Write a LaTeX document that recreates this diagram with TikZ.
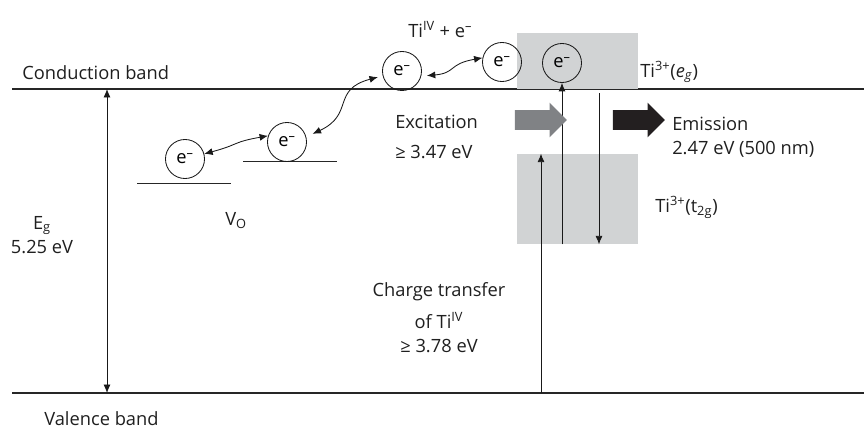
\documentclass[tikz,border=0pt]{standalone}
\usepackage{fontspec}
\setmainfont{Open Sans}
\usetikzlibrary{arrows.meta,positioning,shapes.arrows}

\definecolor{boxgray}{HTML}{D1D3D4}
\definecolor{excgray}{HTML}{808285}
\definecolor{emblack}{HTML}{231F20}

\begin{document}
\begin{tikzpicture}[
  x=0.025cm,y=0.025cm,
  >=Latex,
  line/.style={draw=black!85,line width=0.8pt},
  arr/.style={-{Latex[length=6pt,width=5pt]},draw=black!90,line width=0.6pt},
  darr/.style={{Latex[length=6pt,width=5pt]}-{Latex[length=6pt,width=5pt]},draw=black!90,line width=0.6pt},
  elec/.style={circle,draw=black!90,line width=0.6pt,minimum size=0.975cm,inner sep=0pt,font=\fontsize{13}{17}\selectfont},
  graybox/.style={rectangle,fill=boxgray,draw=none,inner sep=0pt,minimum width=3.025cm},
  fatarrow/.style={single arrow,draw=none,inner xsep=0pt,inner ysep=0.2375cm,minimum height=1.3cm,single arrow head extend=0.1875cm},
  textnode/.style={font=\fontsize{13}{17}\selectfont,text=black!88,inner sep=0pt}
]
\useasboundingbox (0,0) rectangle (864,-428);

% ---------------- geometry in pixels ----------------
\def\yCB{-89}
\def\yVB{-393}
\def\xLeft{12}
\def\xRight{864}

% ---------------- bands ----------------
\draw[line] (\xLeft,\yCB) -- (\xRight,\yCB);
\draw[line] (\xLeft,\yVB) -- (\xRight,\yVB);

\node[textnode,anchor=base west] (cbtext) at (22,-79) {Conduction band};
\node[textnode,anchor=base west] (vbtext) at (44,-425) {Valence band};

\coordinate (egtop) at (107,\yCB);
\coordinate (egbot) at (107,\yVB);
\draw[darr] (egtop) -- (egbot);
% multi-line labels sit on the baseline of their last line
\node[textnode,anchor=base,align=center] (egtext) at (42,-253) {E\textsubscript{g}\\5.25 eV};

% ---------------- Ti3+ states ----------------
\node[graybox,minimum height=1.4cm] (egbox) at (577.5,-61) {};
\node[graybox,minimum height=2.25cm] (tbox) at (577.5,-199) {};

\node[textnode,anchor=base west] (egstate) at (640,-77) {Ti\textsuperscript{3+}(\textit{e}\textsubscript{\textit{g}})};
\node[textnode,anchor=base west] (t2gstate) at (655,-212) {Ti\textsuperscript{3+}(t\textsubscript{2g})};

% ---------------- oxygen vacancy levels and electrons ----------------
\draw[line,line width=0.7pt] (137,-183) -- (231,-183);
\draw[line,line width=0.7pt] (243,-161) -- (337,-161);
\node[textnode,anchor=base west] (votext) at (225,-225) {V\textsubscript{O}};

\node[elec] (e1) at (185,-159) {e\textsuperscript{–}};
\node[elec] (e2) at (287,-142) {e\textsuperscript{–}};
\node[elec] (e3) at (402,-71) {e\textsuperscript{–}};
\node[elec] (e4) at (502,-62) {e\textsuperscript{–}};
\node[elec] (e5) at (562,-63) {e\textsuperscript{–}};

\node[textnode,anchor=base west] (titext) at (408,-37) {Ti\textsuperscript{IV} + e\textsuperscript{–}};

% hopping between the levels
\draw[darr] (e1.15) to[out=15,in=190,looseness=1.4] (e2.162);
\draw[darr,shorten <=5pt,shorten >=3.5pt] (e2.15) to[out=25,in=195,looseness=1.4] (e3.194);
\draw[darr,shorten <=4pt] (e3.-15) to[out=5,in=190,looseness=1.4] (e4.168);

% ---------------- excitation, emission, charge transfer ----------------
\draw[arr] (e5.south |- tbox.south) -- (e5.south);
\coordinate (emtop) at (599,-93);
\draw[arr] (emtop) -- (emtop |- tbox.south);
\coordinate (ctbot) at (541,\yVB);
\draw[arr] (ctbot) -- (ctbot |- tbox.north);

\node[fatarrow,fill=excgray] (excarr) at (536,-120) {};
\node[fatarrow,fill=emblack] (emarr) at (634,-120) {};

\node[textnode,anchor=base west,align=left] (exctext) at (395,-158) {Excitation\\[4pt]≥ 3.47 eV};
\node[textnode,anchor=base west,align=left] (emtext) at (672,-154) {Emission\\2.47 eV (500 nm)};
\node[textnode,anchor=base,align=center] (cttext) at (439,-352) {Charge transfer\\[5.5pt]of Ti\textsuperscript{IV}\\≥ 3.78 eV};

\end{tikzpicture}
\end{document}
